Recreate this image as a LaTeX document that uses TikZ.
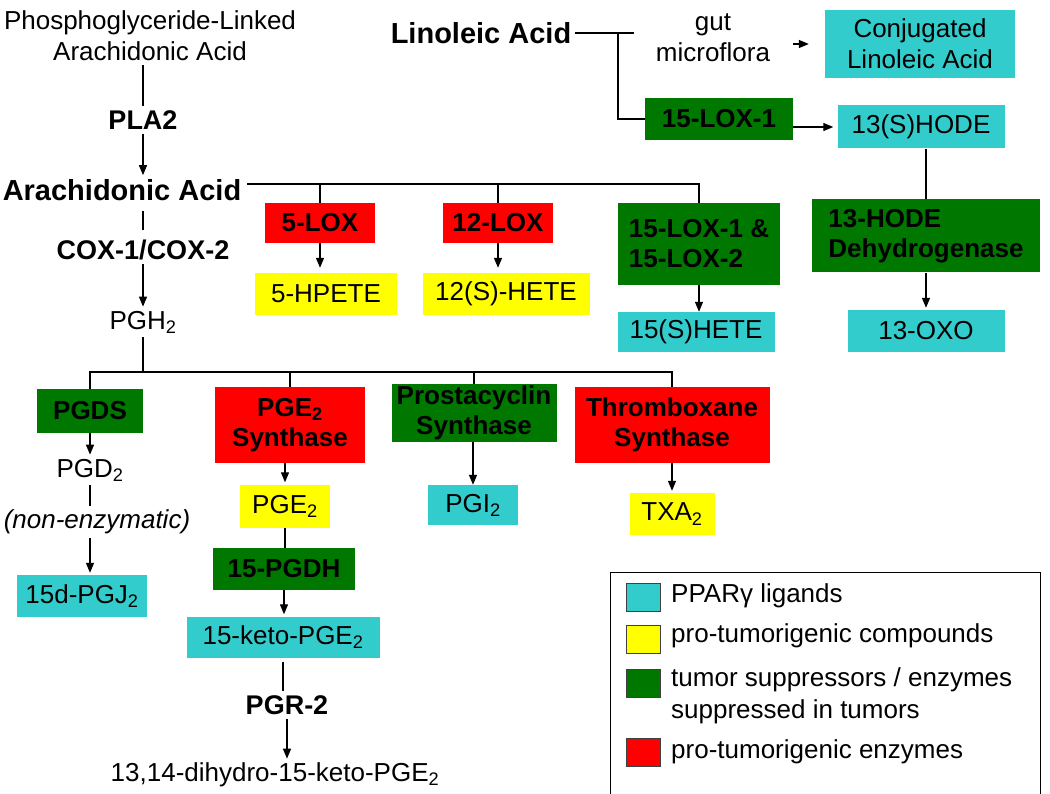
\documentclass[tikz,border=0pt]{standalone}
\usepackage{fontspec}
\setmainfont{Liberation Sans}
\usetikzlibrary{arrows.meta,positioning,calc}
\definecolor{ligandCyan}{RGB}{51,204,204}
\definecolor{tumorYellow}{RGB}{255,255,0}
\definecolor{suppGreen}{RGB}{0,120,0}
\definecolor{tumorRed}{RGB}{255,0,0}

\begin{document}
\begin{tikzpicture}[x=1pt,y=-1pt]
\tikzstyle{txt}=[font=\fontsize{26}{31}\selectfont, align=center, inner sep=4pt]
\tikzstyle{enzyme}=[font=\fontsize{27}{31}\selectfont\bfseries, align=center, inner sep=4pt]
\tikzstyle{acid}=[font=\fontsize{29}{33}\selectfont\bfseries, align=center, inner sep=4pt]
\tikzstyle{ligand}=[rectangle, fill=ligandCyan, font=\fontsize{26}{31}\selectfont, align=center, inner sep=2pt]
\tikzstyle{compound}=[rectangle, fill=tumorYellow, font=\fontsize{26}{31}\selectfont, align=center, inner sep=2pt]
\tikzstyle{suppressor}=[rectangle, fill=suppGreen, font=\fontsize{26}{30}\selectfont\bfseries, align=center, inner sep=2pt]
\tikzstyle{protumor}=[rectangle, fill=tumorRed, font=\fontsize{26}{30}\selectfont\bfseries, align=center, inner sep=2pt]
\tikzstyle{swatch}=[rectangle, draw=black!75, line width=0.8pt, minimum width=34pt, minimum height=28pt]
\tikzstyle{link}=[line width=1.3pt]
\tikzstyle{vecArrow}=[line width=1.3pt, -{Triangle[length=10pt,width=8pt]}]

\useasboundingbox (0,0) rectangle (1050,794);

\node[txt] (plink) at (150,36) {Phosphoglyceride-Linked\\Arachidonic Acid};
\node[enzyme] (pla2) at (143,120) {PLA2};
\node[acid] (aa) at (122,190) {Arachidonic Acid};
\node[enzyme] (cox) at (143,250) {COX-1/COX-2};
\node[txt] (pgh) at (143,322) {PGH\textsubscript{2}};
\draw[link] (pla2.north |- plink.south) -- (pla2.north);
\draw[vecArrow] (pla2.south) -- (pla2.south |- aa.north);
\draw[link, shorten <=6pt, shorten >=6pt] (cox.north |- aa.south) -- (cox.north);
\draw[vecArrow] (cox.south) -- (cox.south |- pgh.north);

\node[acid] (linoleic) at (481,33) {Linoleic Acid};
\node[txt] (gut) at (713,38) {gut\\microflora};
\node[ligand, minimum width=190pt, minimum height=68pt] (cla) at (920,44) {Conjugated\\Linoleic Acid};
\node[suppressor, minimum width=148pt, minimum height=42pt] (lox15one) at (719,119) {15-LOX-1};
\node[ligand, minimum width=167pt, minimum height=43pt] (hode13) at (921,127) {13(S)HODE};
\node[suppressor, minimum width=228pt, minimum height=73pt, align=left] (hodedh) at (926,236) {13-HODE\\Dehydrogenase};
\node[ligand, minimum width=157pt, minimum height=42pt] (oxo13) at (926,331) {13-OXO};
\coordinate (lbranch) at (618,33);
\draw[link, shorten >=18pt] (linoleic.east) -- (linoleic.east -| gut.west);
\draw[link] (lbranch) |- (lox15one.west);
\draw[vecArrow, shorten <=19pt, shorten >=16pt] (gut.east |- cla.west) -- (cla.west);
\draw[vecArrow, shorten >=4pt] (lox15one.east |- hode13.west) -- (hode13.west);
\draw[link] (hodedh.north |- hode13.south) -- (hodedh.north);
\draw[vecArrow, shorten >=2pt] (hodedh) -- (oxo13);

\node[protumor, minimum width=110pt, minimum height=40pt] (lox5) at (320,223) {5-LOX};
\node[compound, minimum width=142pt, minimum height=42pt] (hpete5) at (326,294) {5-HPETE};
\node[protumor, minimum width=110pt, minimum height=40pt] (lox12) at (498,223) {12-LOX};
\node[compound, minimum width=167pt, minimum height=42pt] (hete12) at (506,294) {12(S)-HETE};
\node[suppressor, minimum width=162pt, minimum height=82pt, align=left] (lox15ab) at (699,244) {15-LOX-1 \&\\15-LOX-2};
\node[ligand, minimum width=157pt, minimum height=40pt] (hete15) at (696,332) {15(S)HETE};
\coordinate (aabar) at (247,184);
\draw[link] (aabar) -| (lox15ab.north);
\draw[link] (lox5.north) -- (lox5.north |- aabar);
\draw[link] (lox12.north) -- (lox12.north |- aabar);
\draw[vecArrow, shorten >=5pt] (lox5.south) -- (lox5.south |- hpete5.north);
\draw[vecArrow, shorten >=5pt] (lox12.south) -- (lox12.south |- hete12.north);
\draw[vecArrow] (lox15ab.south) -- (lox15ab.south |- hete15.north);

\node[suppressor, minimum width=106pt, minimum height=43pt] (pgds) at (90,411) {PGDS};
\node[txt] (pgd2) at (90,470) {PGD\textsubscript{2}};
\node[txt, font=\fontsize{26}{31}\selectfont\itshape] (nonenz) at (97,522) {(non-enzymatic)};
\node[ligand, minimum width=130pt, minimum height=42pt] (pgj) at (82,596) {15d-PGJ\textsubscript{2}};
\node[protumor, minimum width=150pt, minimum height=75pt] (pgesyn) at (290,425) {PGE\textsubscript{2}\\Synthase};
\node[compound, minimum width=90pt, minimum height=43pt] (pge2) at (285,506) {PGE\textsubscript{2}};
\node[suppressor, minimum width=142pt, minimum height=42pt] (pgdh15) at (284,569) {15-PGDH};
\node[ligand, minimum width=193pt, minimum height=41pt] (ketopge) at (283,637) {15-keto-PGE\textsubscript{2}};
\node[enzyme] (pgr2) at (287,705) {PGR-2};
\node[txt] (dihydro) at (275,775) {13,14-dihydro-15-keto-PGE\textsubscript{2}};
\node[suppressor, minimum width=165pt, minimum height=50pt] (prosta) at (474,413) {Prostacyclin\\Synthase};
\node[ligand, minimum width=90pt, minimum height=40pt] (pgi2) at (473,505) {PGI\textsubscript{2}};
\node[protumor, minimum width=195pt, minimum height=75pt] (txsyn) at (672,425) {Thromboxane\\Synthase};
\node[compound, minimum width=85pt, minimum height=42pt] (txa2) at (672,514) {TXA\textsubscript{2}};
\coordinate (pgbar) at (143,372);
\draw[link] (pgh) -- (pgbar);
\draw[link] (pgds.north) -- (pgds.north |- pgbar) -- (txsyn.north |- pgbar) -- (txsyn.north);
\draw[link] (pgesyn.north) -- (pgesyn.north |- pgbar);
\draw[link] (prosta.north) -- (prosta.north |- pgbar);
\draw[vecArrow] (pgds) -- (pgd2);
\draw[link] (pgd2.south) -- (pgd2.south |- nonenz.north);
\draw[vecArrow, shorten >=2pt] (pgd2.south |- nonenz.south) -- (pgd2.south |- pgj.north);
\draw[vecArrow, shorten >=2pt] (pgesyn.south -| pge2.north) -- (pge2.north);
\draw[link] (pge2.south) -- (pge2.south |- pgdh15.north);
\draw[vecArrow, shorten >=2pt] (pgdh15.south) -- (pgdh15.south |- ketopge.north);
\draw[link, shorten <=4pt] (ketopge.south) -- (ketopge.south |- pgr2.north);
\draw[vecArrow] (pgr2.south) -- (pgr2.south |- dihydro.north);
\draw[vecArrow] (prosta.south -| pgi2.north) -- (pgi2.north);
\draw[vecArrow, shorten >=2pt] (txsyn) -- (txa2);

\draw[line width=1pt] (610,800) -- (610,572) -- (1040,572) -- (1040,800);
\node[swatch, fill=ligandCyan] (keycyan) at (643,597) {};
\node[swatch, fill=tumorYellow] (keyyellow) at (643,639) {};
\node[swatch, fill=suppGreen] (keygreen) at (643,683) {};
\node[swatch, fill=tumorRed] (keyred) at (643,752) {};
\node[txt, anchor=west, align=left] (keycyantxt) at (667,596) {PPARγ ligands};
\node[txt, anchor=west, align=left] (keyyellowtxt) at (667,636) {pro-tumorigenic compounds};
\node[txt, anchor=west, align=left, font=\fontsize{26}{32}\selectfont] (keygreentxt) at (667,696) {tumor suppressors / enzymes\\suppressed in tumors};
\node[txt, anchor=west, align=left] (keyredtxt) at (667,752) {pro-tumorigenic enzymes};
\end{tikzpicture}
\end{document}
